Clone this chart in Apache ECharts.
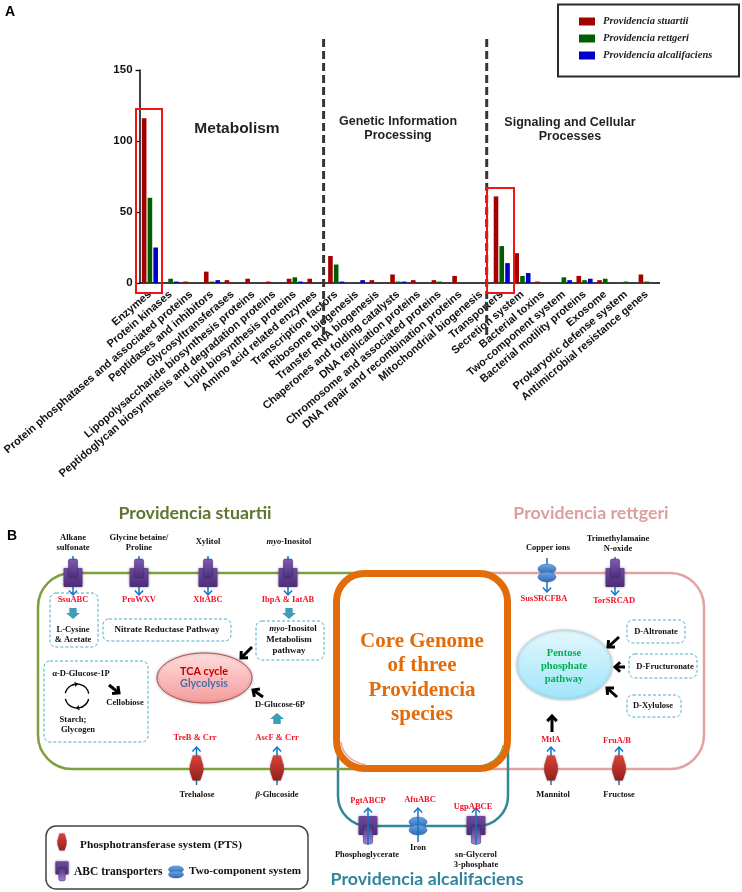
<!DOCTYPE html>
<html><head><meta charset="utf-8">
<script src="https://cdn.jsdelivr.net/npm/echarts@6/dist/echarts.min.js"></script>
<style>html,body{margin:0;padding:0;background:#fff}#c{width:742px;height:892px}</style>
</head><body><div id="c"></div>
<script>
const categories = ["Enzymes","Protein kinases","Protein phosphatases and associated proteins","Peptidases and inhibitors","Glycosyltransferases","Lipopolysaccharide biosynthesis proteins","Peptidoglycan biosynthesis and degradation proteins","Lipid biosynthesis proteins","Amino acid related enzymes","Transcription factors","Ribosome biogenesis","Transfer RNA biogenesis","Chaperones and folding catalysts","DNA replication proteins","Chromosome and associated proteins","DNA repair and recombination proteins","Mitochondrial biogenesis","Transporters","Secretion system","Bacterial toxins","Two-component system","Bacterial motility proteins","Exosome","Prokaryotic defense system","Antimicrobial resistance genes"];
const stuartii      = [116,0,1,8,2,3,1,3,3,19,0,2,6,2,2,5,0,61,21,1,0,5,2,0,6];
const rettgeri      = [60,3,0,1,0,0,0,4,0,13,0,0,1,0,1,0,0,26,5,0,4,2,3,1,1];
const alcalifaciens = [25,1,0,2,0,0,0,1,0,1,2,0,1,0,0,0,0,14,7,0,2,3,0,0,0];
const seriesNames = ["Providencia stuartii","Providencia rettgeri","Providencia alcalifaciens"];
const seriesColors = ["#a30000","#005e00","#0000c8"];

const SERIF='"Liberation Serif",serif', SANS='"Liberation Sans",Arial,sans-serif', CAL='Lato,"Noto Sans",sans-serif';
const G=[];
function text(x,y,t,o){o=o||{};G.push({type:'text',z:o.z||20,style:{x:x,y:y,text:t,align:o.align||'center',verticalAlign:'middle',
  font:o.font||('bold '+(o.size||8.5)+'px '+SERIF),fill:o.fill||'#111',lineHeight:o.lh,rich:o.rich}});}
function rrect(x,y,w,h,r,stroke,lw,o){o=o||{};G.push({type:'rect',z:o.z||10,shape:{x:x,y:y,width:w,height:h,r:r},
  style:{fill:o.fill||null,stroke:stroke,lineWidth:lw,lineDash:o.dash||null}});}
function line(x1,y1,x2,y2,c,lw,o){o=o||{};G.push({type:'line',z:o.z||12,shape:{x1:x1,y1:y1,x2:x2,y2:y2},style:{stroke:c,lineWidth:lw,lineDash:o.dash||null}});}
function arrow(x1,y1,x2,y2,c,lw,h,z){line(x1,y1,x2,y2,c,lw,{z:z||12});
  const a=Math.atan2(y2-y1,x2-x1),s=0.75;
  G.push({type:'polyline',z:z||12,shape:{points:[[x2-h*Math.cos(a-s),y2-h*Math.sin(a-s)],[x2,y2],[x2-h*Math.cos(a+s),y2-h*Math.sin(a+s)]]},style:{stroke:c,lineWidth:lw,fill:null}});}
const dashBox=(x,y,w,h)=>rrect(x,y,w,h,6,'#4bacc6',1,{dash:[3,2],z:11});
const grad=(a,b)=>({type:'linear',x:0,y:0,x2:0,y2:1,colorStops:[{offset:0,color:a},{offset:1,color:b}]});
function abc(x,y,top,k){ k=k||1;
  const wideTop=top?y-5:y-11*k, narrowTop=top?y-14:y-2*k;
  G.push({type:'rect',z:15,shape:{x:x-9.5*k,y:wideTop,width:19*k,height:19*k,r:1},style:{fill:grad('#6f4a9c','#4b2d78'),shadowBlur:3,shadowColor:'rgba(0,0,0,.4)'}});
  G.push({type:'rect',z:16,shape:{x:x-4.7*k,y:narrowTop,width:9.4*k,height:19*k,r:2},style:{fill:top?grad('#7e5cb0','#4b2d78'):grad('#4b2d78','#a585d2'),stroke:'#3d2466',lineWidth:.5}});
}
function tcs(x,y,rx,ry,d){
  [y-d,y+d].forEach(cy=>G.push({type:'ellipse',z:15,shape:{cx:x,cy:cy,rx:rx,ry:ry},style:{fill:grad('#6ea8e4','#2f68b0'),stroke:'#2f68b0',lineWidth:.5}}));
}
function pts(x,y,w,h){
  G.push({type:'polygon',z:15,shape:{points:[[x-w*.28,y-h/2],[x+w*.28,y-h/2],[x+w/2,y-h*.1],[x+w/2,y+h*.15],[x+w*.28,y+h/2],[x-w*.28,y+h/2],[x-w/2,y+h*.15],[x-w/2,y-h*.1]]},
    style:{fill:grad('#d8433a','#94201c'),shadowBlur:2,shadowColor:'rgba(0,0,0,.4)'}});
}
function block(x,y,up){const s=up?-1:1;
  G.push({type:'polygon',z:14,shape:{points:[[x-3.7,y-5*s],[x+3.7,y-5*s],[x+3.7,y],[x+7,y],[x,y+6*s],[x-7,y],[x-3.7,y]]},style:{fill:'#3f9db8'}});}

/* ---------- panel A annotations ---------- */
text(10,12,'A',{font:'bold 14px '+SANS,fill:'#000'});
rrect(136,109,26,184,0,'#f01414',2,{z:30});
rrect(487,188,27,105,0,'#f01414',2,{z:30});
line(323.6,39,323.6,335,'#3a3535',3,{dash:[8,4],z:29});
line(486.7,39,486.7,335,'#3a3535',3,{dash:[8,4],z:29});
text(237,129,'Metabolism',{font:'bold 15.5px '+SANS,fill:'#231f20'});
text(398,129,'Genetic Information\nProcessing',{font:'bold 12.5px '+SANS,fill:'#231f20',lh:14});
text(570,130,'Signaling and Cellular\nProcesses',{font:'bold 12.5px '+SANS,fill:'#231f20',lh:14});
rrect(558,4.5,181,72,0,'#2d2926',2,{z:5});
line(657,283,660,283,'#000',1.5);

/* ---------- panel B ---------- */
text(7,536,'B',{font:'bold 14px '+SANS,fill:'#000',align:'left'});
text(195,513,'Providencia stuartii',{font:'bold 17.8px '+CAL,fill:'#5f7530'});
text(591,513,'Providencia rettgeri',{font:'bold 17.8px '+CAL,fill:'#dd9e9e'});
text(427,879,'Providencia alcalifaciens',{font:'bold 17.8px '+CAL,fill:'#31859c'});

rrect(340,573,364,196,34,'#e2a2a2',2.5,{z:6});
rrect(338,590,170,236,30,'#31859c',2.5,{z:6});
rrect(38,573,470,196,34,'#7f9f3f',2.5,{z:7});
rrect(336.5,573.5,171,195,28,'#e36c0a',7,{z:9,fill:'#fff'});
G.push({type:'bezierCurve',z:9,shape:{x1:341,y1:742,cpx1:343,cpy1:755,cpx2:352,cpy2:762,x2:366,y2:765},style:{stroke:'#e2a2a2',lineWidth:1.5,fill:null}});
G.push({type:'bezierCurve',z:9,shape:{x1:503,y1:745,cpx1:501,cpy1:755,cpx2:494,cpy2:762,x2:484,y2:765},style:{stroke:'#7f9f3f',lineWidth:1.2,fill:null}});
text(422,678,'Core Genome\nof three\nProvidencia\nspecies',{font:'bold 21px '+SERIF,fill:'#e36c0a',lh:24.3});

// top transporters
[[73,'SsuABC'],[139,'ProWXV'],[208,'XltABC'],[288,'IbpA & IatAB']].forEach(a=>{
  arrow(a[0],556,a[0],595,'#0f74c8',1.5,6); abc(a[0],573,true); text(a[0],600,a[1],{fill:'#f01428'});
});
text(73,543,'Alkane\nsulfonate',{lh:10});
text(139,543,'Glycine betaine/\nProline',{lh:10});
text(208,542,'Xylitol');
text(289,542,'{i|myo}-Inositol',{rich:{i:{font:'italic bold 8.5px '+SERIF,fill:'#111'}}});
arrow(547,558,547,592,'#0f74c8',1.5,6); tcs(547,573,9,5,4); text(544,599,'SusSRCFBA',{fill:'#f01428'}); text(548,548,'Copper ions');
arrow(615,557,615,595,'#0f74c8',1.5,6); abc(615,573,true); text(614,601,'TorSRCAD',{fill:'#f01428'}); text(618,543.5,'Trimethylamaine\nN-oxide',{lh:10});

// inner left
dashBox(50,593,48,54); block(73,613,false); text(73,635,'L-Cysine\n& Acetate',{lh:10});
dashBox(103,619,128,22); text(167,629.5,'Nitrate Reductase Pathway',{size:9});
block(289,613,false);
dashBox(256,621,68,39);
text(293,629,'{i|myo}-Inositol',{size:9,rich:{i:{font:'italic bold 9px '+SERIF,fill:'#111'}}});
text(289,640,'Metabolism',{size:9}); text(289,651,'pathway',{size:9});
dashBox(44,661,104,81);
text(81,674,'α-D-Glucose-1P'); text(125,703,'Cellobiose'); text(73,720,'Starch;'); text(78,730,'Glycogen');
arrow(109,685,119,693,'#000',3,7);
G.push({type:'arc',z:13,shape:{cx:77,cy:696,r:12,startAngle:-2.9,endAngle:-0.2,clockwise:true},style:{stroke:'#000',lineWidth:1.4,fill:null}});
G.push({type:'arc',z:13,shape:{cx:77,cy:696,r:12,startAngle:0.25,endAngle:2.9,clockwise:true},style:{stroke:'#000',lineWidth:1.4,fill:null}});
arrow(72,685,77,684,'#000',1.2,3); arrow(83,707,77,708,'#000',1.2,3);

G.push({type:'ellipse',z:13,shape:{cx:204.5,cy:678,rx:47.5,ry:25},style:{fill:grad('#ffdede','#f59b9b'),stroke:'#b5504f',lineWidth:1,shadowBlur:3,shadowColor:'rgba(0,0,0,.3)'}});
text(204,671.5,'TCA cycle',{font:'bold 10.8px '+CAL,fill:'#c00000'});
text(204,684,'Glycolysis',{font:'bold 10.8px '+CAL,fill:'#4a6ea8'});
arrow(252,647,241,658,'#000',3,7);
arrow(263,697,253,690,'#000',3,7);
text(280,705,'D-Glucose-6P'); block(277,719,true);
text(195,738,'TreB & Crr',{fill:'#f01428'}); text(277,738,'AscF & Crr',{fill:'#f01428'});
[[196.5,768],[277,768],[551,768],[619,768]].forEach(p=>{arrow(p[0],785,p[0],747,'#0f74c8',1.5,6); pts(p[0],p[1],13.5,25);});
text(197,795,'Trehalose');
text(277,795,'{i|β}-Glucoside',{rich:{i:{font:'italic bold 8.5px '+SERIF,fill:'#111'}}});
text(553,795,'Mannitol'); text(619,795,'Fructose');
text(551,740,'MtlA',{fill:'#f01428'}); text(617,741,'FruA/B',{fill:'#f01428'});

// pentose
G.push({type:'ellipse',z:13,shape:{cx:564.5,cy:665,rx:47.5,ry:34.5},style:{fill:grad('#e4f7fb','#9fe5fb'),stroke:'#b5dbe6',lineWidth:1,shadowBlur:3,shadowColor:'rgba(0,0,0,.25)'}});
text(564,666,'Pentose\nphosphate\npathway',{size:10.5,fill:'#00b050',lh:13});
dashBox(627,620,58,23); text(656,632,'D-Altronate');
dashBox(629,654,68,24); text(665,667,'D-Fructuronate');
dashBox(627,695,54,22); text(653,706,'D-Xylulose');
arrow(619,637,608,647,'#000',3,7);
arrow(625,667,615,667,'#000',3,7);
arrow(617,697,607,688,'#000',3,7);
arrow(552,732,552,716,'#000',3,7);

// bottom transporters
arrow(368,845,368,808,'#0f74c8',1.5,6,17); abc(368,827,false); text(368,801,'PgtABCP',{fill:'#f01428'}); text(367,855,'Phosphoglycerate');
arrow(418,842,418,808,'#0f74c8',1.5,6,17); tcs(418,826,9,5,4); text(420,800,'AfuABC',{fill:'#f01428'}); text(418,848,'Iron');
arrow(476,845,476,808,'#0f74c8',1.5,6,17); abc(476,827,false); text(473,807,'UgpABCE',{fill:'#f01428',z:21}); text(476,860,'sn-Glycerol\n3-phosphate',{lh:10});

// key
rrect(46,826,262,63,10,'#444',1.5,{z:10,fill:'#fff'});
pts(62,842,9,17);
text(80,845,'Phosphotransferase system (PTS)',{align:'left',size:11.3});
abc(62,869,false,0.7);
text(74,872,'ABC transporters',{align:'left',size:11.5});
tcs(176,872,7.5,3.5,2.5);
text(189,871,'Two-component system',{align:'left',size:11.2});

const chart=echarts.init(document.getElementById('c'),null,{renderer:'canvas'});
chart.setOption({
  animation:false, backgroundColor:'#fff',
  textStyle:{fontFamily:SANS},
  grid:{left:139,top:70,width:518,height:213,containLabel:false},
  legend:{orient:'vertical',left:579,top:16,padding:0,itemWidth:16,itemHeight:8,itemGap:6,data:seriesNames,icon:'rect',selectedMode:false,
    textStyle:{fontFamily:SERIF,fontStyle:'italic',fontWeight:'bold',fontSize:10.5,color:'#222',padding:[0,0,0,3]}},
  xAxis:{type:'category',data:categories,boundaryGap:true,
    axisLine:{lineStyle:{color:'#000',width:1.5}},
    axisTick:{alignWithLabel:true,length:4,lineStyle:{color:'#000',width:1.3}},
    axisLabel:{interval:0,rotate:40.5,margin:10,fontFamily:SANS,fontWeight:'bold',fontSize:11,color:'#111',hideOverlap:false},
    splitLine:{show:false}},
  yAxis:{type:'value',min:0,max:150,interval:50,
    axisLine:{show:true,lineStyle:{color:'#000',width:1.5}},
    axisTick:{show:true,length:4,lineStyle:{color:'#000',width:1.3}},
    axisLabel:{margin:7,fontFamily:SANS,fontWeight:'bold',fontSize:11.5,color:'#111'},
    splitLine:{show:false}},
  series:[stuartii,rettgeri,alcalifaciens].map((d,i)=>({type:'bar',name:seriesNames[i],data:d,barWidth:4.6,barGap:'25%',
    itemStyle:{color:seriesColors[i]},z:2})),
  graphic:{elements:G}
});
</script></body></html>
